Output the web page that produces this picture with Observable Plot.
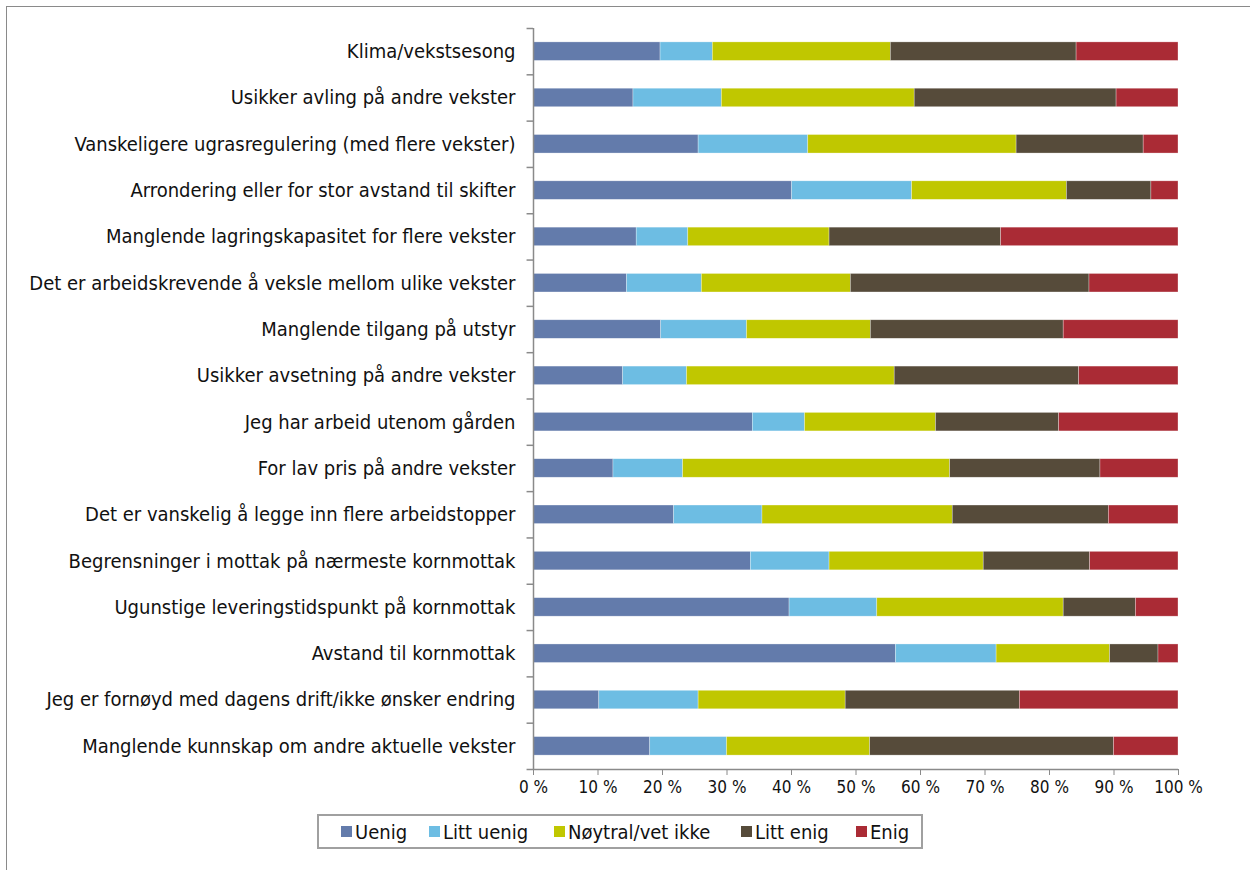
<!DOCTYPE html>
<html>
<head>
<meta charset="utf-8">
<script src="https://cdn.jsdelivr.net/npm/d3@7"></script>
<script src="https://cdn.jsdelivr.net/npm/@observablehq/plot@0.6"></script>
<style>
  html, body { margin: 0; padding: 0; background: #fff; }
  body { width: 1250px; height: 870px; position: relative; overflow: hidden; font-family: "DejaVu Sans Condensed", "DejaVu Sans", sans-serif; }
  #frame { position: absolute; left: 6px; top: 6px; width: 1300px; height: 900px; border: 1.5px solid #8a8a8a; box-sizing: border-box; }
  #chart { position: absolute; left: 0; top: 0; }
  #legend { position: absolute; left: 317px; top: 814px; width: 606px; height: 35px; border: 2px solid #a0a0a0; box-sizing: border-box;
            font-size: 20px; color: #111; }
  #legend .item { position: absolute; top: 0; height: 31px; display: flex; align-items: center; white-space: nowrap; }
  #legend .sw { width: 11px; height: 11px; margin-right: 3px; display: inline-block; }
</style>
</head>
<body>
<div id="frame"></div>
<div id="chart"></div>
<div id="legend"></div>
<script>
const categories = [
  "Klima/vekstsesong",
  "Usikker avling på andre vekster",
  "Vanskeligere ugrasregulering (med flere vekster)",
  "Arrondering eller for stor avstand til skifter",
  "Manglende lagringskapasitet for flere vekster",
  "Det er arbeidskrevende å veksle mellom ulike vekster",
  "Manglende tilgang på utstyr",
  "Usikker avsetning på andre vekster",
  "Jeg har arbeid utenom gården",
  "For lav pris på andre vekster",
  "Det er vanskelig å legge inn flere arbeidstopper",
  "Begrensninger i mottak på nærmeste kornmottak",
  "Ugunstige leveringstidspunkt på kornmottak",
  "Avstand til kornmottak",
  "Jeg er fornøyd med dagens drift/ikke ønsker endring",
  "Manglende kunnskap om andre aktuelle vekster"
];
const responses = ["Uenig", "Litt uenig", "Nøytral/vet ikke", "Litt enig", "Enig"];
const colors = ["#637bab", "#6dbde3", "#c0c700", "#564b3a", "#aa2b35"];

const uenig      = [19.7, 15.5, 25.6, 40.1, 16.0, 14.5, 19.8, 13.9, 34.0, 12.4, 21.8, 33.7, 39.7, 56.2, 10.2, 18.1];
const littUenig  = [ 8.1, 13.7, 17.0, 18.6,  8.0, 11.6, 13.3,  9.9,  8.1, 10.8, 13.7, 12.2, 13.6, 15.6, 15.4, 11.9];
const noytral    = [27.6, 29.9, 32.3, 24.0, 21.9, 23.1, 19.2, 32.2, 20.3, 41.4, 29.5, 23.9, 28.9, 17.6, 22.8, 22.2];
const littEnig   = [28.8, 31.3, 19.7, 13.1, 26.6, 37.0, 29.9, 28.6, 19.1, 23.3, 24.2, 16.5, 11.2,  7.5, 27.0, 37.8];
const enig       = [15.8,  9.6,  5.4,  4.2, 27.5, 13.8, 17.8, 15.4, 18.5, 12.1, 10.8, 13.7,  6.6,  3.1, 24.6, 10.0];
const xTicks = [0, 10, 20, 30, 40, 50, 60, 70, 80, 90, 100];

const series = [uenig, littUenig, noytral, littEnig, enig];
const data = [];
categories.forEach((c, i) => {
  responses.forEach((r, j) => data.push({category: c, response: r, value: series[j][i]}));
});

const height = 810, marginTop = 28, marginBottom = 41;
const step = (height - marginTop - marginBottom) / categories.length;
const font = "'DejaVu Sans Condensed', 'DejaVu Sans', sans-serif";

const chart = Plot.plot({
  width: 1250,
  height,
  marginLeft: 533,
  marginRight: 72,
  marginTop,
  marginBottom,
  style: {fontFamily: font, fontSize: "20px", color: "#111", background: "transparent", overflow: "visible"},
  x: {domain: [0, 100]},
  y: {domain: categories, paddingInner: 0.6, paddingOuter: 0.3, round: false},
  color: {domain: responses, range: colors},
  marks: [
    Plot.barX(data, {y: "category", x: "value", fill: "response", stroke: "#ffffff", strokeOpacity: 0.5, strokeWidth: 0.6, order: responses}),
    Plot.axisY({tickSize: 0, tickPadding: 18, label: null, fontSize: 20}),
    Plot.axisX({ticks: xTicks, tickFormat: d => d + " %", tickSize: 6, tickPadding: 5, label: null, stroke: "#8a8a8a", fontSize: 17}),
    Plot.ruleX([0], {stroke: "#8a8a8a", strokeWidth: 1.5}),
    Plot.ruleY(categories.slice(-1), {x1: 0, x2: 100, dy: step / 2, stroke: "#8a8a8a", strokeWidth: 1.5}),
    Plot.ruleY(categories, {x1: -1, x2: 0, dy: step / 2, stroke: "#8a8a8a", strokeWidth: 1.5}),
    Plot.ruleY(categories.slice(0, 1), {x1: -1, x2: 0, dy: -step / 2, stroke: "#8a8a8a", strokeWidth: 1.5})
  ]
});
document.getElementById("chart").appendChild(chart);

// legend item left offsets (px inside the legend box)
const legendLefts = [22, 110, 235, 422, 537];
const legend = d3.select("#legend");
responses.forEach((r, i) => {
  const item = legend.append("div").attr("class", "item").style("left", legendLefts[i] + "px");
  item.append("span").attr("class", "sw").style("background", colors[i]);
  item.append("span").text(r);
});
</script>
</body>
</html>
